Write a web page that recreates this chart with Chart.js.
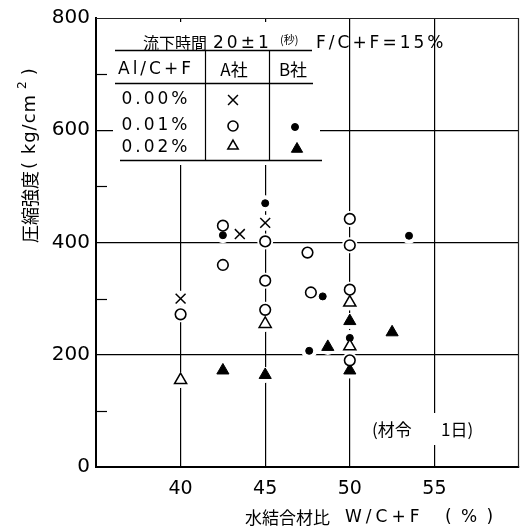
<!DOCTYPE html>
<html><head><meta charset="utf-8">
<script src="https://cdn.jsdelivr.net/npm/chart.js@4/dist/chart.umd.min.js"></script>
<style>html,body{margin:0;padding:0;background:#fff}</style>
</head><body>
<canvas id="c" width="530" height="531"></canvas>
<script>
// 水結合材比 W/C+F (%) と 圧縮強度 (kg/cm²)、材令1日
const xTickLabels = [40, 45, 50, 55];
const yTickLabels = [0, 200, 400, 600, 800];

// A社 Al/C+F = 0.00 %
const aZeroW = [40, 43.5, 45];
const aZeroS = [300, 415, 435];
// A社 Al/C+F = 0.01 %
const aOneW = [40, 42.5, 42.5, 45, 45, 45, 47.5, 47.7, 50, 50, 50, 50];
const aOneS = [272, 430, 360, 402, 332, 280, 382, 311, 442, 395, 316, 190];
// A社 Al/C+F = 0.02 %
const aTwoW = [40, 45, 50, 50];
const aTwoS = [155, 255, 293, 215];
// B社 Al/C+F = 0.01 %
const bOneW = [42.5, 45, 48.4, 47.6, 50, 53.5];
const bOneS = [413, 470, 304, 207, 230, 412];
// B社 Al/C+F = 0.02 %
const bTwoW = [42.5, 45, 48.7, 50, 50, 52.5];
const bTwoS = [172, 164, 214, 260, 172, 240];

const pts = (xs, ys) => xs.map((x, i) => ({x, y: ys[i]}));
const SANS = '"DejaVu Sans", sans-serif';
const CJK = '"Noto Sans CJK JP", sans-serif';

const series = [
  {label: 'A社 0.00%', data: pts(aZeroW, aZeroS), pointStyle: 'crossRot', pointRadius: 7, pointBorderWidth: 1.5, pointBackgroundColor: '#fff', pointBorderColor: '#000'},
  {label: 'A社 0.01%', data: pts(aOneW, aOneS), pointStyle: 'circle', pointRadius: 5.3, pointBorderWidth: 1.6, pointBackgroundColor: '#fff', pointBorderColor: '#000'},
  {label: 'A社 0.02%', data: pts(aTwoW, aTwoS), pointStyle: 'triangle', pointRadius: 7, pointBorderWidth: 1.5, pointBackgroundColor: '#fff', pointBorderColor: '#000'},
  {label: 'B社 0.01%', data: pts(bOneW, bOneS), pointStyle: 'circle', pointRadius: 3.5, pointBorderWidth: 1, pointBackgroundColor: '#000', pointBorderColor: '#000'},
  {label: 'B社 0.02%', data: pts(bTwoW, bTwoS), pointStyle: 'triangle', pointRadius: 7, pointBorderWidth: 1, pointBackgroundColor: '#000', pointBorderColor: '#000'}
];

function line(ctx, x1, y1, x2, y2, w) {
  ctx.beginPath(); ctx.lineWidth = w || 1; ctx.moveTo(x1, y1); ctx.lineTo(x2, y2); ctx.stroke();
}

// white backgrounds, minor ticks and the frame, drawn under the markers
const underlay = {
  id: 'underlay',
  beforeDatasetsDraw(chart) {
    const {ctx, chartArea: a, scales: {y}} = chart;
    ctx.save();
    // thin top and right frame
    ctx.strokeStyle = '#222';
    line(ctx, a.left, a.top + 0.5, a.right, a.top + 0.5, 1);
    line(ctx, a.right - 0.5, a.top, a.right - 0.5, a.bottom, 1.2);
    // short ticks at 100, 300, 500, 700
    ctx.strokeStyle = '#000';
    [100, 300, 500, 700].forEach(v => {
      const py = Math.round(y.getPixelForValue(v)) + 0.5;
      line(ctx, a.left, py, a.left + 11, py, 1.2);
    });
    ctx.fillStyle = '#fff';
    // key table background
    ctx.fillRect(113, 22, 207, 143);
    // age note background
    ctx.fillRect(366, 413, 124, 32);
    // clear the grid around each marker
    chart.data.datasets.forEach((ds, i) => {
      chart.getDatasetMeta(i).data.forEach(p => {
        ctx.beginPath(); ctx.arc(p.x, p.y, 8, 0, Math.PI * 2); ctx.fill();
      });
    });
    ctx.restore();
  },
  afterDraw(chart) {
    const {ctx} = chart;
    ctx.save();
    ctx.fillStyle = '#000'; ctx.strokeStyle = '#000';
    ctx.textBaseline = 'middle';

    // key table
    ctx.textAlign = 'left';
    ctx.font = '16px ' + CJK; ctx.fillText('流下時間', 143, 43);
    ctx.font = '17px ' + SANS;
    ctx.letterSpacing = '3px';
    ctx.fillText('20±1', 213, 44);
    ctx.letterSpacing = '0px';
    ctx.font = '11px ' + CJK; ctx.fillText('(秒)', 280, 40);
    ctx.font = '17px ' + SANS;
    ctx.letterSpacing = '3px';
    ctx.fillText('F/C+F=15%', 316, 44);
    ctx.letterSpacing = '0px';
    line(ctx, 115, 50.5, 312, 50.5, 1.5);
    line(ctx, 115, 83.5, 313, 83.5, 1.5);
    line(ctx, 120, 160.5, 322, 160.5, 1.5);
    line(ctx, 205.5, 50, 205.5, 160, 1.2);
    line(ctx, 269.5, 50, 269.5, 160, 1.2);

    ctx.textAlign = 'center';
    ctx.font = '17px ' + SANS;
    ctx.letterSpacing = '3px';
    ctx.fillText('Al/C+F', 156, 70);
    ctx.fillText('0.00%', 156, 100);
    ctx.fillText('0.01%', 156, 126);
    ctx.fillText('0.02%', 156, 148);
    ctx.letterSpacing = '0px';
    ctx.font = '17px ' + CJK;
    ctx.fillText('A社', 234, 70);
    ctx.fillText('B社', 293, 70);

    const keyPos = [[233, 100], [233, 126], [233, 146], [295, 127], [297, 149]];
    const keyR = [7, 5, 6, 3.5, 6.5];
    series.forEach((s, i) => {
      ctx.fillStyle = s.pointBackgroundColor; ctx.strokeStyle = s.pointBorderColor;
      ctx.lineWidth = s.pointBorderWidth;
      Chart.helpers.drawPoint(ctx, {pointStyle: s.pointStyle, radius: keyR[i], borderWidth: s.pointBorderWidth}, keyPos[i][0], keyPos[i][1]);
    });

    ctx.fillStyle = '#000';
    // age note
    ctx.textAlign = 'left';
    ctx.font = '17px ' + CJK;
    ctx.fillText('(材令', 372, 430);
    ctx.fillText('1日)', 441, 430);

    // x axis title
    ctx.font = '17px ' + CJK; ctx.fillText('水結合材比', 245, 518);
    ctx.font = '17px ' + SANS;
    ctx.letterSpacing = '4px';
    ctx.fillText('W/C+F', 345, 518);
    ctx.letterSpacing = '2px';
    ctx.fillText('( % )', 445, 518);
    ctx.letterSpacing = '0px';

    // y axis title
    ctx.translate(30, 155);
    ctx.rotate(-Math.PI / 2);
    ctx.textAlign = 'left';
    ctx.font = '18px ' + CJK;
    ctx.fillText('圧縮強度', -88, 0);
    ctx.font = '18px ' + SANS;
    ctx.letterSpacing = '1px';
    ctx.fillText('( kg/cm', -14, 0);
    ctx.letterSpacing = '0px';
    ctx.font = '12px ' + SANS;
    ctx.fillText('2', 66, -7);
    ctx.font = '18px ' + SANS;
    ctx.fillText(' )', 74, 0);
    ctx.restore();
  }
};

new Chart(document.getElementById('c'), {
  type: 'scatter',
  data: {datasets: series.map(s => Object.assign({showLine: false}, s))},
  options: {
    responsive: false,
    animation: false,
    devicePixelRatio: 1,
    layout: {padding: {left: 0, right: 9, top: 14, bottom: 0}},
    plugins: {legend: {display: false}, tooltip: {enabled: false}},
    scales: {
      x: {
        type: 'linear', min: 35, max: 60,
        afterFit: s => { s.height = 64; },
        ticks: {
          stepSize: 5, padding: 11, color: '#000', font: {family: SANS, size: 19},
          callback: v => xTickLabels.includes(v) ? String(v) : ''
        },
        grid: {
          drawTicks: false, lineWidth: 1.2,
          color: c => (c.tick && xTickLabels.includes(c.tick.value)) ? '#000' : 'rgba(0,0,0,0)'
        },
        border: {color: '#000', width: 2}
      },
      y: {
        min: 0, max: 800,
        afterFit: s => { s.width = 96; },
        ticks: {
          stepSize: 100, padding: 6, color: '#000', font: {family: SANS, size: 20},
          callback: v => yTickLabels.includes(v) ? String(v) : ''
        },
        grid: {
          drawTicks: false, lineWidth: 1.2,
          color: c => (c.tick && c.tick.value % 200 === 0 && c.tick.value > 0 && c.tick.value < 800) ? '#000' : 'rgba(0,0,0,0)'
        },
        border: {color: '#000', width: 2}
      }
    }
  },
  plugins: [underlay]
});
</script>
</body></html>
